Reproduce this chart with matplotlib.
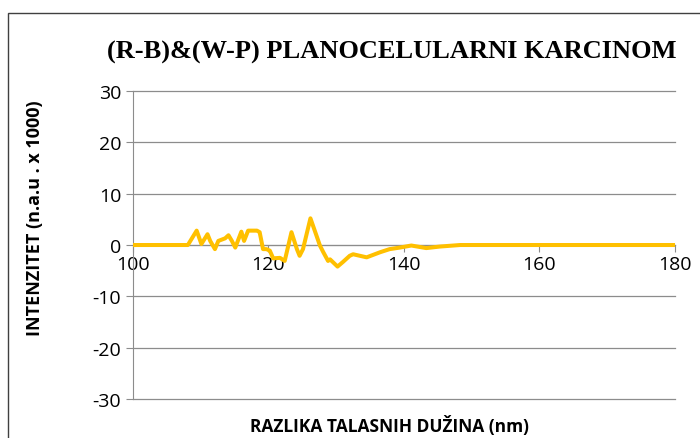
import matplotlib.pyplot as plt
from matplotlib.patches import Rectangle

plt.rcParams['axes.unicode_minus'] = False

# wavelength difference (nm) and intensity (n.a.u x 1000)
wavelength = [100, 108.1, 109.4, 110.1, 111.0, 111.4, 112.1, 112.6, 113.6, 114.1,
              114.6, 115.1, 116.0, 116.4, 117.0, 118.3, 118.7, 119.2, 119.7, 120.2,
              120.7, 121.7, 122.4, 123.4, 124.2, 124.6, 125.1, 126.2, 127.1, 127.6,
              128.1, 128.8, 129.1, 130.2, 131.0, 132.0, 132.5, 134.5, 136.5, 137.9,
              139.4, 141.1, 143.3, 145.3, 148.3, 160, 180]
intensity = [0, 0, 2.8, 0.2, 2.1, 0.8, -0.8, 0.8, 1.3, 1.9,
             0.8, -0.5, 2.6, 0.8, 2.8, 2.8, 2.5, -0.8, -0.8, -1.1,
             -2.6, -2.5, -3.1, 2.5, -0.8, -2.1, -0.8, 5.2, 1.8, -0.1,
             -1.4, -3.1, -2.8, -4.2, -3.3, -2.1, -1.8, -2.4, -1.4, -0.8,
             -0.5, -0.1, -0.6, -0.3, 0, 0, 0]

x_ticks = [100, 120, 140, 160, 180]
y_ticks = [-30, -20, -10, 0, 10, 20, 30]

fig = plt.figure(figsize=(7, 4.39), dpi=100)
ax = fig.add_axes([0.19, 0.0888, 0.774, 0.7016])

# outer chart border
fig.patches.append(Rectangle((8 / 700, -0.05), 1.0, 1 - 14 / 439 + 0.05,
                             transform=fig.transFigure, fill=False,
                             edgecolor='#404040', linewidth=1.0))

ax.plot(wavelength, intensity, color='#FFC000', linewidth=2.9, zorder=3)

ax.set_xlim(100, 180)
ax.set_ylim(-30, 30)
ax.set_xticks(x_ticks)
ax.set_yticks(y_ticks)
for yv in y_ticks:
    ax.axhline(yv, color='#8c8c8c', linewidth=0.9, clip_on=False, zorder=1)

for s in ['top', 'right']:
    ax.spines[s].set_visible(False)
ax.spines['bottom'].set_position(('data', 0))
ax.spines['bottom'].set_color('#8c8c8c')
ax.spines['left'].set_color('#8c8c8c')
ax.tick_params(axis='both', colors='#8c8c8c', labelcolor='black',
               labelsize=14, length=5)
ax.tick_params(axis='x', pad=2)
for lbl in ax.get_xticklabels() + ax.get_yticklabels():
    lbl.set_family('Open Sans')

fig.text(0.56, 0.88, '(R-B)&(W-P) PLANOCELULARNI KARCINOM',
         ha='center', va='center', fontsize=19, fontweight='bold',
         family='Liberation Serif')
fig.text(0.05, 0.503, 'INTENZITET (n.a.u . x 1000)', rotation=90,
         ha='center', va='center', fontsize=13, fontweight='bold',
         family='Open Sans')
fig.text(0.557, 0.006, 'RAZLIKA TALASNIH DUŽINA (nm)', ha='center', va='bottom',
         fontsize=12.5, fontweight='bold', family='Open Sans')

fig.savefig('out.png', dpi=100)
